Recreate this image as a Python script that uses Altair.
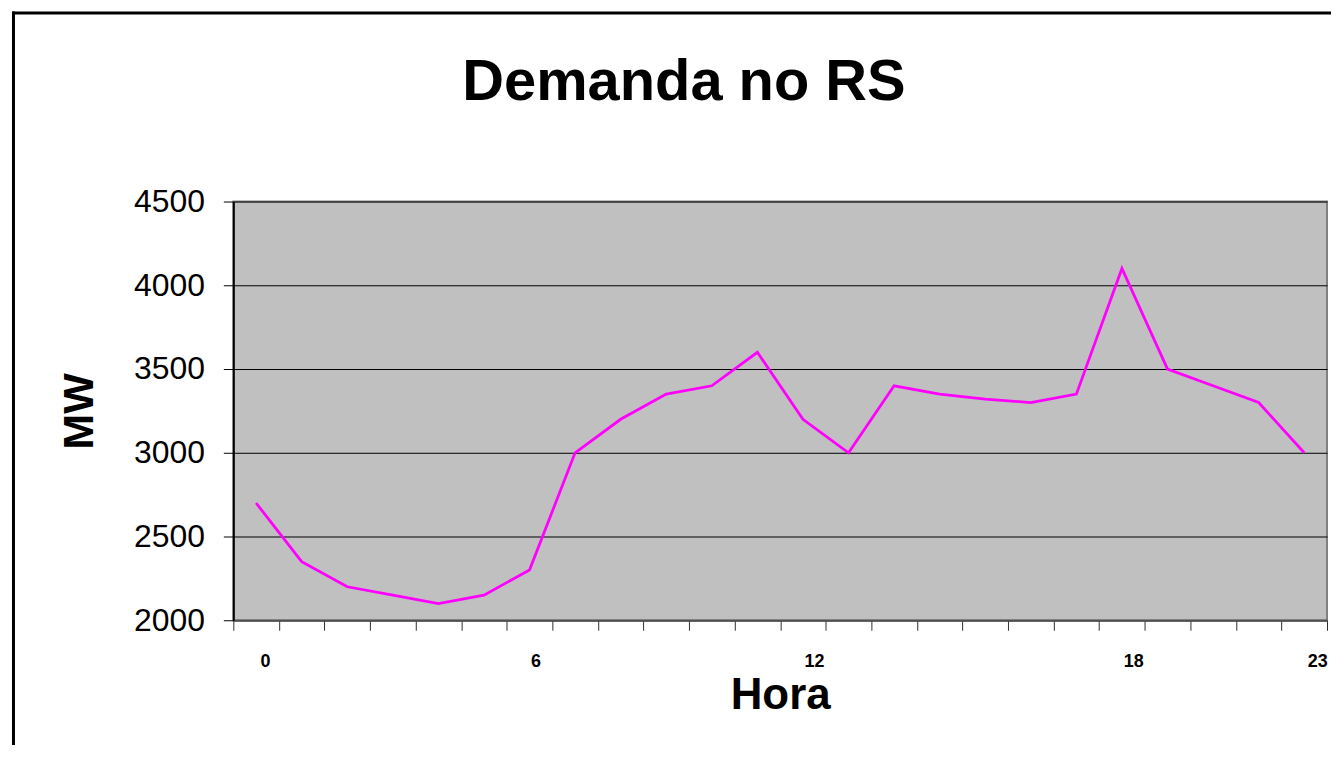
import altair as alt
import pandas as pd

# ---- data ----
HOURS = list(range(24))
DEMAND = [2700, 2350, 2200, 2150, 2100, 2150, 2300, 3000, 3200, 3350, 3400, 3600,
          3200, 3000, 3400, 3350, 3320, 3300, 3350, 4100, 3500, 3400, 3300, 3000]
SHOWN_LABELS = [0, 6, 12, 18, 23]
Y_TICKS = [2000, 2500, 3000, 3500, 4000, 4500]
TITLE = "Demanda no RS"
X_TITLE = "Hora"
Y_TITLE = "MW"

df = pd.DataFrame({"hora": HOURS, "mw": DEMAND})

FONT = "Liberation Sans"
W, H = 1097, 420

label_expr = "indexof([%s], +datum.value) >= 0 ? datum.label : ''" % ",".join(str(v) for v in SHOWN_LABELS)
label_offsets = {0: 9, 6: 6, 12: 11, 18: 57, 23: 13}

x_axis = alt.Axis(
    title=X_TITLE, titleFont=FONT, titleFontSize=44, titleFontWeight="bold", titleColor="black",
    titleX=W / 2, titleY=89, titleAlign="center", titleBaseline="alphabetic", titleAngle=0,
    labelExpr=label_expr, labelAngle=0, labelFont=FONT, labelFontSize=18, labelFontWeight="bold",
    labelColor="black", labelBaseline="top", labelPadding=22, labelOverlap=False,
    labelOffset={"condition": [{"test": "datum.value == %d" % k, "value": v} for k, v in label_offsets.items()],
                 "value": 0},
    tickBand="extent", tickSize=10, tickColor="#303030", tickWidth=1,
    domainColor="#505050", domainWidth=2, grid=False,
)

y_axis = alt.Axis(
    title=Y_TITLE, titleFont=FONT, titleFontSize=43, titleFontWeight="bold", titleColor="black",
    titleX=-154, titleY=H / 2, titleAngle=270, titleAlign="center", titleBaseline="middle",
    values=Y_TICKS, format="d", labelFont=FONT, labelFontSize=32, labelColor="black",
    labelPadding=19, labelAlign="right", labelBaseline="middle",
    tickSize=10, tickColor="black", tickWidth=1,
    domainColor="black", domainWidth=2,
    grid=True, gridColor="black", gridWidth=1, gridOpacity=1,
)

line = alt.Chart(df).mark_line(color="#FF00FF", strokeWidth=2.8).encode(
    x=alt.X("hora:O", axis=x_axis, scale=alt.Scale(type="band", paddingInner=0, paddingOuter=0)),
    y=alt.Y("mw:Q", axis=y_axis, scale=alt.Scale(domain=[2000, 4500], nice=False, zero=False)),
)

one = pd.DataFrame({"t": [TITLE]})

title = alt.Chart(one).mark_text(
    font=FONT, fontSize=58, fontWeight="bold", color="black", align="center", baseline="alphabetic"
).encode(x=alt.value(452), y=alt.value(-102), text="t:N")

frame_top = alt.Chart(one).mark_rule(color="black", strokeWidth=3).encode(
    x=alt.value(-222), x2=alt.value(1120), y=alt.value(-189)
)
frame_left = alt.Chart(one).mark_rule(color="black", strokeWidth=3).encode(
    x=alt.value(-220.5), y=alt.value(-190.5), y2=alt.value(600)
)

chart = alt.layer(line, title, frame_top, frame_left).properties(
    width=W, height=H,
    autosize=alt.AutoSizeParams(type="none"),
    padding={"left": 226, "top": 193, "right": 4, "bottom": 124},
    background="white",
).configure_view(fill="#C0C0C0", stroke="#808080", strokeWidth=2)

chart.save("out.html", embed_options={"renderer": "svg", "actions": False})
